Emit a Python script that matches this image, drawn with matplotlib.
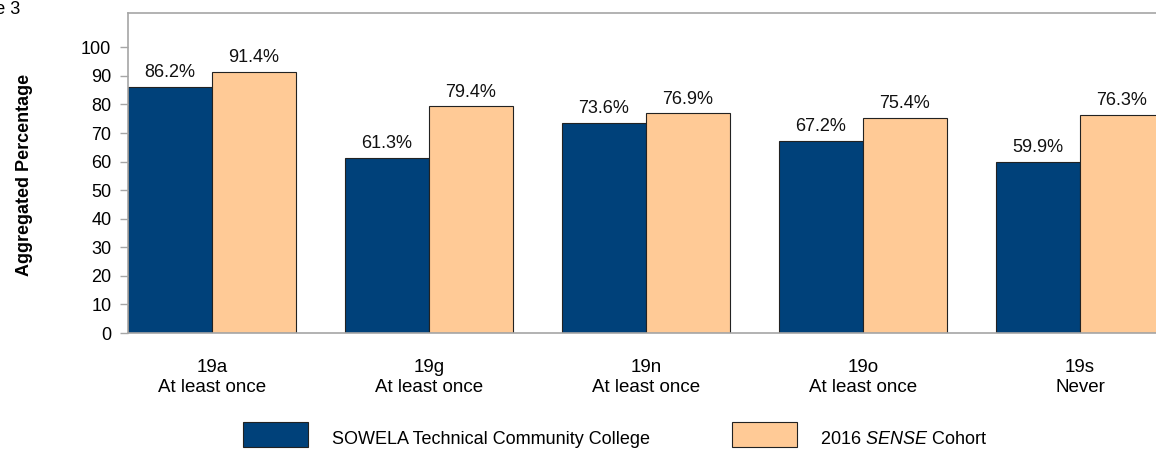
import matplotlib
matplotlib.use("Agg")
import matplotlib.pyplot as plt
from matplotlib.patches import Rectangle
import numpy as np

plt.rcParams['font.family'] = ['Liberation Sans', 'DejaVu Sans']
plt.rcParams['mathtext.fontset'] = 'custom'
plt.rcParams['mathtext.rm'] = 'Liberation Sans'
plt.rcParams['mathtext.it'] = 'Liberation Sans:italic'

categories = ["19a\nAt least once", "19g\nAt least once", "19n\nAt least once",
              "19o\nAt least once", "19s\nNever"]
college = [86.2, 61.3, 73.6, 67.2, 59.9]
cohort = [91.4, 79.4, 76.9, 75.4, 76.3]
series_names = ["SOWELA Technical Community College", "2016 $\\it{SENSE}$ Cohort"]
yticks = list(range(0, 101, 10))

blue = '#00417A'
orange = '#FFCA96'
gray = '#A6A6A6'

W, H = 1156, 450
fig = plt.figure(figsize=(W / 100, H / 100), dpi=100)
ax = fig.add_axes([128 / W, 1 - 333 / H, (1213 - 128) / W, (333 - 13) / H])

x = np.arange(len(categories))
bw = 0.387
b1 = ax.bar(x - bw / 2, college, bw, color=blue, edgecolor='#222222', linewidth=0.8)
b2 = ax.bar(x + bw / 2, cohort, bw, color=orange, edgecolor='#222222', linewidth=0.8)

for bars in (b1, b2):
    for r in bars:
        h = r.get_height()
        ax.annotate(f"{h:.1f}%", (r.get_x() + r.get_width() / 2, h),
                    xytext=(0, 4), textcoords='offset points',
                    ha='center', va='bottom', fontsize=13, color='#111111')

ax.set_xlim(-bw, len(categories) - bw)
ax.set_ylim(0, 112)
ax.set_yticks(yticks)
ax.set_xticks(x)
ax.set_xticklabels(categories, fontsize=13.5, linespacing=1.2)
ax.tick_params(axis='x', length=0, pad=19)
ax.tick_params(axis='y', length=6, color=gray, width=1, labelsize=13, pad=6)

for s in ['top', 'left', 'bottom']:
    ax.spines[s].set_color(gray)
    ax.spines[s].set_linewidth(1.2)
ax.spines['right'].set_visible(False)

fig.text(25 / W, 1 - 175 / H, "Aggregated Percentage", rotation=90,
         ha='center', va='center', fontsize=13, fontweight='bold')
fig.text(20 / W, 1 - 9 / H, "Figure 3", ha='right', va='center', fontsize=13)

# legend
for (px, tx, col, name) in [(243, 332, blue, series_names[0]),
                            (732, 820, orange, series_names[1])]:
    fig.patches.append(Rectangle((px / W, 1 - 447 / H), 65 / W, 25 / H,
                                 transform=fig.transFigure, facecolor=col,
                                 edgecolor='#222222', linewidth=0.8))
    fig.text(tx / W, 1 - 440 / H, name, ha='left', va='center', fontsize=13)

fig.savefig("out.png", dpi=100)
